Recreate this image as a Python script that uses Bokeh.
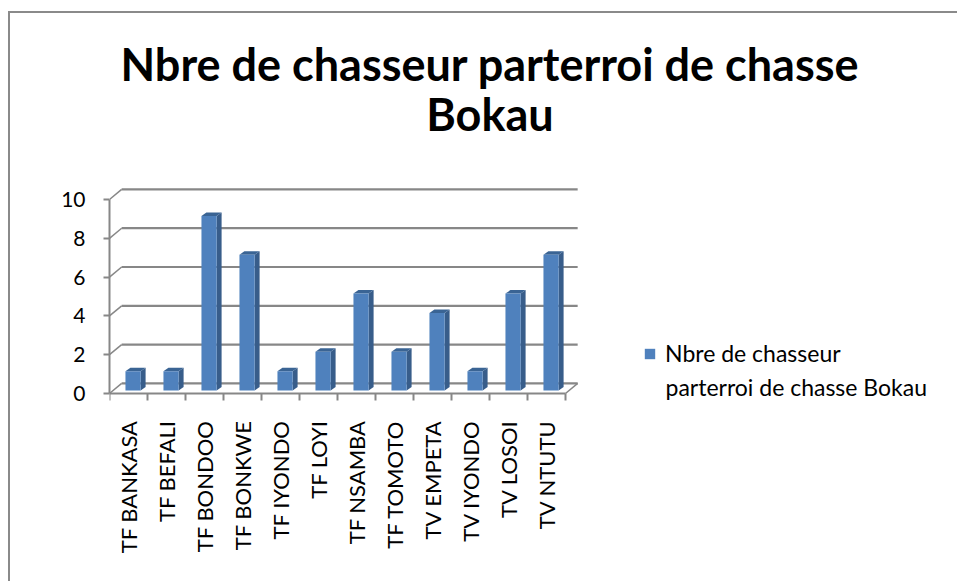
import numpy as np
from math import pi
from bokeh.plotting import figure
from bokeh.models import Range1d, FixedTicker, Legend, LegendItem, Label
from bokeh.embed import file_html
from bokeh.resources import INLINE

# ---- data ----
categories = ["TF BANKASA", "TF BEFALI", "TF BONDOO", "TF BONKWE", "TF IYONDO", "TF LOYI",
              "TF NSAMBA", "TF TOMOTO", "TV EMPETA", "TV IYONDO", "TV LOSOI", "TV NTUTU"]
counts = [1, 1, 9, 7, 1, 2, 5, 2, 4, 1, 5, 7]
y_ticks = [0, 2, 4, 6, 8, 10]
title_lines = ["Nbre de chasseur parterroi de chasse", "Bokau"]
series_lines = ["Nbre de chasseur", "parterroi de chasse Bokau"]

# ---- styling constants (pseudo-3D look) ----
FONT = "Lato"
GRID = "#878787"
FRONT = "#4F81BD"
SIDE = "#385D8A"
TOP = "#3A6494"
WALL_DX, WALL_DY = 0.32, 0.52      # depth of the floor / back wall
BAR_L, BAR_R = 0.42, 0.82          # bar front face within a category slot
BAR_BASE = 0.15
BAR_DX, BAR_DY = 0.13, 0.18        # bar depth

n = len(categories)
W, H = 949, 570
FRAME_LEFT, FRAME_BOTTOM = 99, 178
PX_X, PX_Y = 38.0, 19.4
Y0 = -12.0 / PX_Y
frame_h = H - FRAME_BOTTOM

p = figure(width=W, height=H, output_backend="svg", toolbar_location=None,
           x_range=Range1d(0, (W - FRAME_LEFT) / PX_X),
           y_range=Range1d(Y0, Y0 + frame_h / PX_Y),
           min_border_left=FRAME_LEFT, min_border_bottom=FRAME_BOTTOM,
           min_border_top=0, min_border_right=0)
p.outline_line_color = None
p.xgrid.visible = False
p.ygrid.visible = False
p.styles = {"margin-left": "8px", "margin-top": "11px",
            "border-left": "2px solid #8a8a8a", "border-top": "2px solid #8a8a8a"}

# back-wall gridlines, floor edge and depth connectors
ticks = np.array(y_ticks, dtype=float)
p.segment(x0=np.full(len(ticks), WALL_DX), y0=ticks + WALL_DY,
          x1=np.full(len(ticks), n + WALL_DX), y1=ticks + WALL_DY,
          line_color=GRID, line_width=2.2)
p.segment(x0=np.zeros(len(ticks)), y0=ticks, x1=np.full(len(ticks), WALL_DX), y1=ticks + WALL_DY,
          line_color=GRID, line_width=1.5)
p.segment(x0=[n], y0=[0], x1=[n + WALL_DX], y1=[WALL_DY], line_color=GRID, line_width=1.5)

# front category axis line and boundary ticks at value 0
bounds_x = np.arange(n + 1, dtype=float)
p.segment(x0=[0], y0=[0], x1=[n], y1=[0], line_color=GRID, line_width=2)
p.segment(x0=bounds_x, y0=np.zeros(n + 1), x1=bounds_x, y1=np.full(n + 1, -7.0 / PX_Y),
          line_color=GRID, line_width=2)

# bars
idx = np.arange(n, dtype=float)
vals = np.array(counts, dtype=float)
x0 = idx + BAR_L
x1 = idx + BAR_R
top = vals + BAR_BASE
side_xs = [[a, a + BAR_DX, a + BAR_DX, a] for a in x1]
side_ys = [[BAR_BASE, BAR_BASE + BAR_DY, t + BAR_DY, t] for t in top]
top_xs = [[a, b, b + BAR_DX, a + BAR_DX] for a, b in zip(x0, x1)]
top_ys = [[t, t, t + BAR_DY, t + BAR_DY] for t in top]
p.patches(side_xs, side_ys, fill_color=SIDE, line_color=None)
p.patches(top_xs, top_ys, fill_color=TOP, line_color=None)
front = p.quad(left=x0, right=x1, bottom=BAR_BASE, top=top, fill_color=FRONT, line_color=None)

# y axis
ya = p.yaxis[0]
ya.ticker = FixedTicker(ticks=y_ticks)
ya.bounds = (0, max(y_ticks))
ya.axis_line_color = GRID
ya.axis_line_width = 2
ya.major_tick_line_color = GRID
ya.major_tick_line_width = 2
ya.major_tick_in = 0
ya.major_tick_out = 6
ya.minor_tick_line_color = None
ya.major_label_text_font = FONT
ya.major_label_text_font_size = "21px"
ya.major_label_text_color = "#000000"
ya.major_label_standoff = 18

# x axis: category labels (line and ticks drawn at value 0 above)
xa = p.xaxis[0]
centers = list(idx + 0.5)
xa.ticker = FixedTicker(ticks=centers)
xa.major_label_overrides = {c: lab for c, lab in zip(centers, categories)}
xa.axis_line_color = None
xa.major_tick_line_color = None
xa.minor_tick_line_color = None
xa.major_tick_in = 0
xa.major_tick_out = 0
xa.major_label_orientation = pi / 2
xa.major_label_text_font = FONT
xa.major_label_text_font_size = "22px"
xa.major_label_text_color = "#000000"
xa.major_label_standoff = 15

# title (positions in data space of the chart canvas)
for line, yb in zip(title_lines, [(393 - 63) / PX_Y, (393 - 113) / PX_Y]):
    p.add_layout(Label(x=(489.5 - 109) / PX_X, y=yb, text=line, text_align="center",
                       text_baseline="alphabetic", text_font=FONT, text_font_style="bold",
                       text_font_size="45px", text_color="#000000"))

# legend
leg = Legend(items=[LegendItem(label=series_lines[0], renderers=[front])],
             location=(534, 38), border_line_color=None, background_fill_alpha=0,
             padding=0, margin=0, glyph_width=13, glyph_height=13, label_standoff=9,
             label_text_font=FONT, label_text_font_size="23px", label_text_color="#000000")
p.add_layout(leg)
p.add_layout(Label(x=(665 - 109) / PX_X, y=(393 - 386) / PX_Y, text=series_lines[1],
                   text_align="left", text_baseline="alphabetic", text_font=FONT,
                   text_font_size="23px", text_color="#000000"))

open("out.html", "w").write(file_html(p, INLINE))
